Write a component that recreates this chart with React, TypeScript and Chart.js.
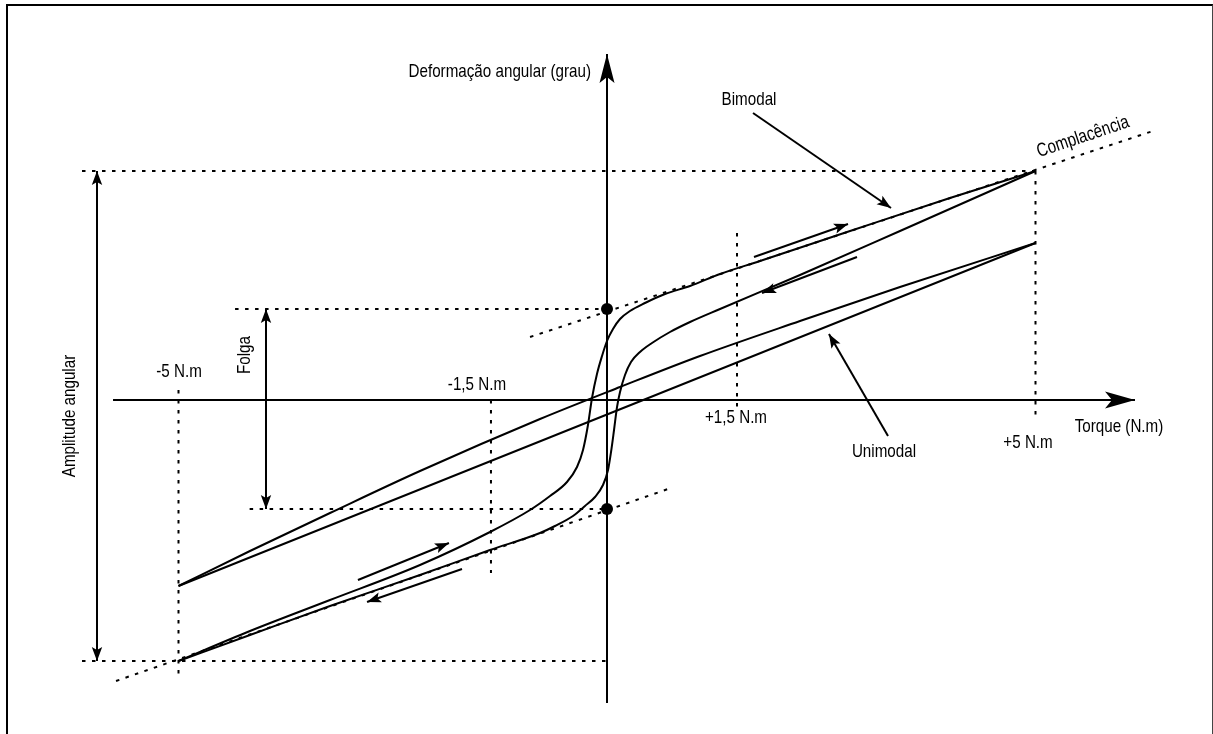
import React, { useEffect, useRef } from "react";
import { Chart, registerables } from "chart.js";

Chart.register(...registerables);

// ---- axes (torque in N.m, deformation in schematic degree units) ----
const torqueAxisX = [-5.764, 6.161];
const torqueAxisY = [0, 0];
const angleAxisX = [0, 0];
const angleAxisY = [-6.06, 6.92];

// ---- bimodal hysteresis loop ----
const bimodalLoadX = [-5, -4.166, -3.232, -2.182, -1.365, -0.898, -0.665, -0.467, -0.35, -0.28, -0.222, -0.175, -0.117, -0.058, 0, 0.07, 0.152, 0.268, 0.443, 0.677, 0.969, 1.319, 1.785, 2.836, 4.002, 5];
const bimodalLoadY = [-5.22, -4.62, -4.0, -3.3, -2.64, -2.2, -1.92, -1.64, -1.34, -1.0, -0.5, 0.04, 0.52, 0.88, 1.18, 1.42, 1.62, 1.78, 1.94, 2.12, 2.28, 2.52, 2.78, 3.38, 4.04, 4.58];
const bimodalUnloadX = [5, 3.419, 2.252, 1.319, 0.969, 0.735, 0.525, 0.385, 0.28, 0.21, 0.152, 0.117, 0.082, 0.047, 0.012, -0.047, -0.14, -0.257, -0.397, -0.607, -0.782, -1.365, -2.182, -3.232, -4.166, -5];
const bimodalUnloadY = [4.58, 3.38, 2.5, 1.82, 1.56, 1.36, 1.14, 0.96, 0.76, 0.5, 0.16, -0.14, -0.6, -1.04, -1.4, -1.7, -1.94, -2.12, -2.32, -2.52, -2.66, -3.0, -3.5, -4.12, -4.7, -5.22];

// ---- unimodal loop ----
const unimodalUpperX = [-5, -4.166, -3.232, -2.182, -0.782, 0.152, 1.085, 2.252, 3.419, 5];
const unimodalUpperY = [-3.72, -3.02, -2.26, -1.42, -0.38, 0.26, 0.88, 1.58, 2.26, 3.14];
const unimodalLowerX = [-5, 5];
const unimodalLowerY = [-3.72, 3.14];

// ---- compliance (dotted tangents) ----
const complianceUpperX = [-0.898, 6.371];
const complianceUpperY = [1.26, 5.38];
const complianceLowerX = [-5.729, 0.712];
const complianceLowerY = [-5.62, -1.78];

// ---- dotted reference lines ----
const amplitudeTopX = [-6.126, 5];
const amplitudeTopY = [4.58, 4.58];
const amplitudeBottomX = [-6.126, 0.058];
const amplitudeBottomY = [-5.22, -5.22];
const backlashTopX = [-4.34, 0];
const backlashTopY = [1.82, 1.82];
const backlashBottomX = [-4.17, 0];
const backlashBottomY = [-2.18, -2.18];
const torqueMarkX = [-5, -1.354, 1.517, 5];
const torqueMarkTopY = [0.2, 0, 3.34, 4.58];
const torqueMarkBottomY = [-5.54, -3.46, -0.14, -0.34];

// ---- dimension arrows ----
const amplitudeArrowX = [-5.951, -5.951];
const amplitudeArrowY = [4.58, -5.22];
const backlashArrowX = [-3.979, -3.979];
const backlashArrowY = [1.82, -2.18];

// ---- pointer arrows ----
const bimodalPointerX = [1.704, 3.314];
const bimodalPointerY = [5.74, 3.84];
const unimodalPointerX = [3.279, 2.59];
const unimodalPointerY = [-0.72, 1.32];

// ---- direction arrows ----
const upperLoadArrowX = [1.715, 2.812];
const upperLoadArrowY = [2.86, 3.52];
const upperUnloadArrowX = [2.917, 1.809];
const upperUnloadArrowY = [2.86, 2.14];
const lowerLoadArrowX = [-2.906, -1.844];
const lowerLoadArrowY = [-3.6, -2.86];
const lowerUnloadArrowX = [-1.692, -2.8];
const lowerUnloadArrowY = [-3.38, -4.04];

// ---- backlash points ----
const backlashDotX = [0, 0];
const backlashDotY = [1.82, -2.18];

// ---- labels ----
const labelTexts = ["Deformação angular (grau)", "Bimodal", "Complacência", "-5 N.m", "Folga", "-1,5 N.m", "+1,5 N.m", "Torque (N.m)", "+5 N.m", "Unimodal", "Amplitude angular"];
const labelX = [-0.187, 1.657, 5.554, -4.994, -4.224, -1.517, 1.505, 5.974, 4.913, 3.232, -6.266];
const labelY = [6.56, 6.0, 5.26, 0.57, 0.9, 0.3, -0.36, -0.54, -0.86, -1.04, -0.32];
const labelAngle = [0, 0, -18.5, 0, -90, 0, 0, 0, 0, 0, -90];
const labelAlign = ["right", "center", "center", "center", "center", "center", "center", "center", "center", "center", "center"];

const pts = (xs: number[], ys: number[]) => xs.map((x, i) => ({ x, y: ys[i] }));

const BIG_HEAD_X = { len: 30, half: 8.5, notch: 7 };
const BIG_HEAD_Y = { len: 29, half: 7.5, notch: 6 };
const SMALL_HEAD = { len: 14, half: 5.2, notch: 3 };

function solid(data: any[], width = 2, extra: any = {}) {
  return {
    data,
    showLine: true,
    borderColor: "#000",
    backgroundColor: "#000",
    borderWidth: width,
    pointRadius: 0,
    pointHoverRadius: 0,
    tension: 0,
    fill: false,
    ...extra,
  };
}
function curve(data: any[]) {
  return solid(data, 2, { cubicInterpolationMode: "monotone", tension: 0.4 });
}
function dotted(data: any[]) {
  return solid(data, 2, { borderDash: [3.5, 6.5] });
}

function drawHead(ctx: CanvasRenderingContext2D, fx: number, fy: number, tx: number, ty: number, s: any) {
  const a = Math.atan2(ty - fy, tx - fx);
  const dx = Math.cos(a), dy = Math.sin(a);
  const px = -dy, py = dx;
  const bx = tx - s.len * dx, by = ty - s.len * dy;
  const nx = tx - (s.len - s.notch) * dx, ny = ty - (s.len - s.notch) * dy;
  ctx.beginPath();
  ctx.moveTo(tx, ty);
  ctx.lineTo(bx + s.half * px, by + s.half * py);
  ctx.lineTo(nx, ny);
  ctx.lineTo(bx - s.half * px, by - s.half * py);
  ctx.closePath();
  ctx.fill();
}

const decorPlugin = {
  id: "diagramDecor",
  afterDatasetsDraw(chart: any) {
    const ctx: CanvasRenderingContext2D = chart.ctx;
    const xs = chart.scales.x;
    const ys = chart.scales.y;
    ctx.save();
    ctx.fillStyle = "#000";
    chart.data.datasets.forEach((ds: any) => {
      const d = ds.data;
      const n = d.length;
      if (ds.headEnd) {
        drawHead(ctx, xs.getPixelForValue(d[n - 2].x), ys.getPixelForValue(d[n - 2].y), xs.getPixelForValue(d[n - 1].x), ys.getPixelForValue(d[n - 1].y), ds.headEnd);
      }
      if (ds.headStart) {
        drawHead(ctx, xs.getPixelForValue(d[1].x), ys.getPixelForValue(d[1].y), xs.getPixelForValue(d[0].x), ys.getPixelForValue(d[0].y), ds.headStart);
      }
    });
    ctx.font = '19px "Liberation Sans", Arial, sans-serif';
    ctx.textBaseline = "middle";
    labelTexts.forEach((t, i) => {
      ctx.save();
      ctx.translate(xs.getPixelForValue(labelX[i]), ys.getPixelForValue(labelY[i]));
      ctx.rotate((labelAngle[i] * Math.PI) / 180);
      ctx.scale(0.8, 1);
      ctx.textAlign = labelAlign[i] as CanvasTextAlign;
      ctx.fillText(t, 0, 0);
      ctx.restore();
    });
    ctx.restore();
  },
};

export default function App() {
  const ref = useRef<HTMLCanvasElement | null>(null);
  useEffect(() => {
    if (!ref.current) return;
    const datasets: any[] = [
      dotted(pts(amplitudeTopX, amplitudeTopY)),
      dotted(pts(amplitudeBottomX, amplitudeBottomY)),
      dotted(pts(backlashTopX, backlashTopY)),
      dotted(pts(backlashBottomX, backlashBottomY)),
      ...torqueMarkX.map((x, i) => dotted(pts([x, x], [torqueMarkTopY[i], torqueMarkBottomY[i]]))),
      dotted(pts(complianceUpperX, complianceUpperY)),
      dotted(pts(complianceLowerX, complianceLowerY)),
      solid(pts(torqueAxisX, torqueAxisY), 2, { headEnd: BIG_HEAD_X }),
      solid(pts(angleAxisX, angleAxisY), 2, { headEnd: BIG_HEAD_Y }),
      curve(pts(bimodalLoadX, bimodalLoadY)),
      curve(pts(bimodalUnloadX, bimodalUnloadY)),
      curve(pts(unimodalUpperX, unimodalUpperY)),
      solid(pts(unimodalLowerX, unimodalLowerY), 2),
      solid(pts(amplitudeArrowX, amplitudeArrowY), 2, { headStart: SMALL_HEAD, headEnd: SMALL_HEAD }),
      solid(pts(backlashArrowX, backlashArrowY), 2, { headStart: SMALL_HEAD, headEnd: SMALL_HEAD }),
      solid(pts(bimodalPointerX, bimodalPointerY), 2, { headEnd: SMALL_HEAD }),
      solid(pts(unimodalPointerX, unimodalPointerY), 2, { headEnd: SMALL_HEAD }),
      solid(pts(upperLoadArrowX, upperLoadArrowY), 2, { headEnd: SMALL_HEAD }),
      solid(pts(upperUnloadArrowX, upperUnloadArrowY), 2, { headEnd: SMALL_HEAD }),
      solid(pts(lowerLoadArrowX, lowerLoadArrowY), 2, { headEnd: SMALL_HEAD }),
      solid(pts(lowerUnloadArrowX, lowerUnloadArrowY), 2, { headEnd: SMALL_HEAD }),
      {
        data: pts(backlashDotX, backlashDotY),
        showLine: false,
        pointRadius: 6,
        pointHoverRadius: 6,
        pointBackgroundColor: "#000",
        pointBorderColor: "#000",
        borderWidth: 0,
      },
    ];
    const chart = new Chart(ref.current, {
      type: "scatter",
      data: { datasets },
      options: {
        animation: false,
        responsive: false,
        events: [],
        layout: { padding: 0, autoPadding: false },
        plugins: { legend: { display: false }, tooltip: { enabled: false } },
        scales: {
          x: { type: "linear", display: false, min: -607 / 85.7, max: (1213 - 607) / 85.7 },
          y: { type: "linear", display: false, min: (400 - 734) / 50, max: 400 / 50 },
        },
      },
      plugins: [decorPlugin],
    } as any);
    return () => chart.destroy();
  }, []);
  return (
    <div style={{ position: "fixed", left: 0, top: 0, width: 1213, height: 734, background: "#fff", overflow: "hidden" }}>
      <canvas ref={ref} width={1213} height={734} style={{ position: "absolute", left: 0, top: 0, width: 1213, height: 734 }} />
      <div
        style={{
          position: "absolute",
          left: 6,
          top: 4,
          width: 1207,
          height: 800,
          boxSizing: "border-box",
          borderLeft: "2px solid #000",
          borderTop: "2px solid #000",
          borderRight: "1px solid #444",
          pointerEvents: "none",
        }}
      />
    </div>
  );
}
